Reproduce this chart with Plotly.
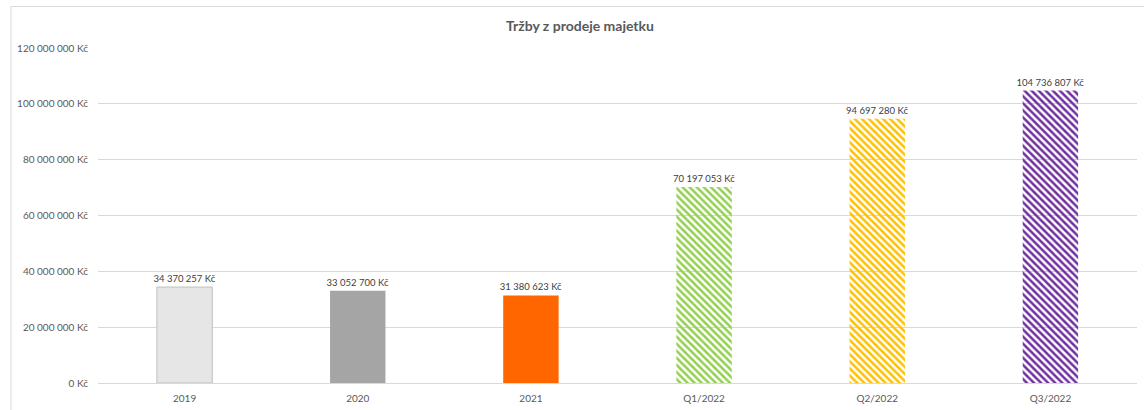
import plotly.graph_objects as go

categories = ["2019", "2020", "2021", "Q1/2022", "Q2/2022", "Q3/2022"]
values = [34370257, 33052700, 31380623, 70197053, 94697280, 104736807]
colors = ["#E7E6E6", "#A5A5A5", "#FF6600", "#92D050", "#FFC000", "#7030A0"]
patterned = [False, False, False, True, True, True]
tick_vals = [0, 20000000, 40000000, 60000000, 80000000, 100000000, 120000000]
title_text = "Tržby z prodeje majetku"

def fmt(v):
    return f"{v:,}".replace(",", " ") + " Kč"

labels = [fmt(v) for v in values]
tick_text = [fmt(v) for v in tick_vals]

FONT = "Lato"
W, H = 1144, 410
L, R, T, B = 98, 7, 48, 27
pw, ph = W - L - R, H - T - B

fig = go.Figure(go.Bar(
    x=categories, y=values, text=labels, textposition="outside",
    textfont=dict(family=FONT, size=9.5, color="#404040"),
    constraintext="none",
    cliponaxis=False,
    marker=dict(
        color=colors,
        line=dict(color=["#BFBFBF", "rgba(0,0,0,0)", "rgba(0,0,0,0)", "rgba(0,0,0,0)", "rgba(0,0,0,0)", "rgba(0,0,0,0)"], width=1),
        pattern=dict(
            shape=[("\\" if p else "") for p in patterned],
            fgcolor=colors, bgcolor="#FFFFFF", fillmode="replace",
            size=5, solidity=0.5,
        ),
    ),
    hoverinfo="skip",
))

def px2paper_x(px):
    return (px - L) / pw

def px2paper_y(py):
    return (H - B - py) / ph

fig.add_shape(type="rect", xref="paper", yref="paper",
              x0=px2paper_x(11), x1=px2paper_x(1160),
              y0=px2paper_y(420), y1=px2paper_y(6.5),
              line=dict(color="#D9D9D9", width=1), layer="below")

fig.update_layout(
    width=W, height=H,
    margin=dict(l=L, r=R, t=T, b=B, pad=0),
    paper_bgcolor="white", plot_bgcolor="white",
    bargap=0.68,
    showlegend=False,
    title=dict(text="<b>" + title_text + "</b>", x=px2paper_x(580), xref="paper",
               xanchor="center", y=1 - 26 / H, yanchor="middle",
               font=dict(family=FONT, size=14, color="#595959")),
    xaxis=dict(showgrid=False, showline=True, linecolor="#D9D9D9", linewidth=1,
               ticks="", tickfont=dict(family=FONT, size=10, color="#595959"),
               ticklabelstandoff=6),
    yaxis=dict(range=[0, 120000000], tickvals=tick_vals, ticktext=tick_text,
               showgrid=True, gridcolor="#D9D9D9", gridwidth=1, zeroline=False,
               showline=False, ticks="", ticklabelstandoff=9,
               tickfont=dict(family=FONT, size=10, color="#595959")),
)

fig.write_html("out.html", config={"displayModeBar": False},
               post_script="document.body.style.margin='0';document.body.style.overflow='hidden';")
